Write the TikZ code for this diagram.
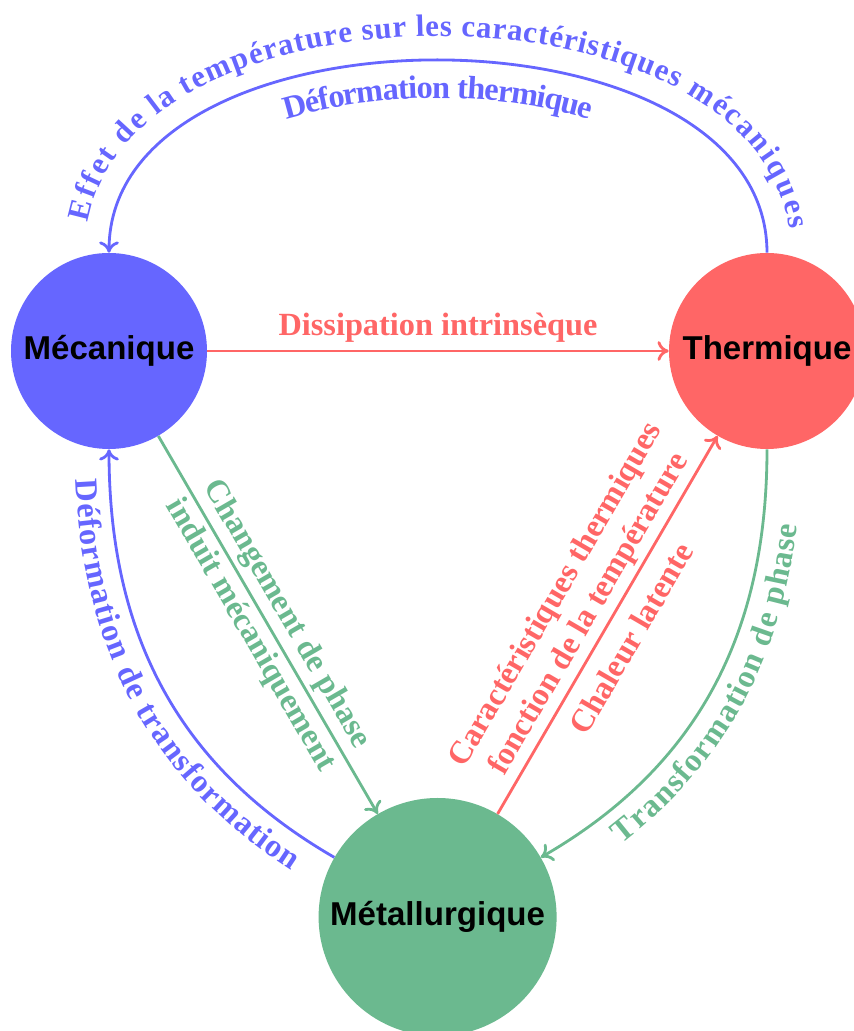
\documentclass[tikz,border=0pt]{standalone}
\usepackage{fontspec}
\setmainfont{Liberation Serif}
\setsansfont{Liberation Sans}
\usetikzlibrary{arrows.meta,decorations.text}

\definecolor{bleu}{RGB}{102,102,255}
\definecolor{rouge}{RGB}{255,102,102}
\definecolor{vert}{RGB}{107,185,143}

\tikzset{
    domaine/.style={circle, inner sep=0pt, text=black,
        font=\sffamily\bfseries\fontsize{23.5}{28}\selectfont},
    lien/.style={line width=2pt, -{To[length=8pt,width=14pt]}},
    etiquette/.style={align=center, font=\bfseries\fontsize{23}{27}\selectfont}
}

\begin{document}
\begin{tikzpicture}

    \useasboundingbox (0,0) rectangle (21.325,25.775);

% the three domains
    \node[domaine, fill=bleu, minimum size=4.9cm] (meca) at (2.725,17) {Mécanique};
    \node[domaine, fill=rouge, minimum size=4.9cm] (therm) at (19.175,17) {Thermique};
    \node[domaine, fill=vert, minimum size=5.95cm] (metal) at (10.94,2.85) {Métallurgique};

% thermique -> mecanique (top arc)
    \draw[lien, bleu] (therm.north) to[out=90,in=90] (meca.north);
    \path[decorate, decoration={text along path, text color=bleu, raise=0.6cm,
            text align={left indent=0.6cm, right indent=0.5cm, fit to path},
            text={|\bfseries\fontsize{22}{26}\selectfont|Effet de la température sur les caractéristiques mécaniques}}]
        (meca.north) to[out=90,in=90] (therm.north);
    \path[decorate, decoration={text along path, text color=bleu, raise=-0.95cm,
            text align=center,
            text={|\bfseries\fontsize{23}{27}\selectfont|Déformation thermique}}]
        (meca.north) to[out=90,in=90] (therm.north);

% mecanique -> thermique
    \draw[lien, rouge] (meca) -- node[etiquette, above, inner sep=5pt] {Dissipation intrinsèque} (therm);

% mecanique -> metallurgique
    \draw[lien, vert] (meca) --
        node[etiquette, sloped, above] {Changement de phase}
        node[etiquette, sloped, below] {induit mécaniquement} (metal);

% metallurgique -> thermique
    \draw[lien, rouge] (metal) --
        node[etiquette, sloped, above] {Caractéristiques thermiques\\fonction de la température}
        node[etiquette, sloped, below, inner sep=10pt] {Chaleur latente} (therm);

% thermique -> metallurgique
    \draw[lien, vert] (therm) to[out=-90,in=30] (metal);
    \path[decorate, decoration={text along path, text color=vert, raise=-0.85cm,
            text align=center,
            text={|\bfseries\fontsize{23}{27}\selectfont|Transformation de phase}}]
        (metal) to[out=30,in=-90] (therm);

% metallurgique -> mecanique
    \draw[lien, bleu] (metal) to[out=150,in=-90] (meca);
    \path[decorate, decoration={text along path, text color=bleu, raise=-0.85cm,
            text align=center,
            text={|\bfseries\fontsize{23}{27}\selectfont|Déformation de transformation}}]
        (meca) to[out=-90,in=150] (metal);

\end{tikzpicture}
\end{document}
